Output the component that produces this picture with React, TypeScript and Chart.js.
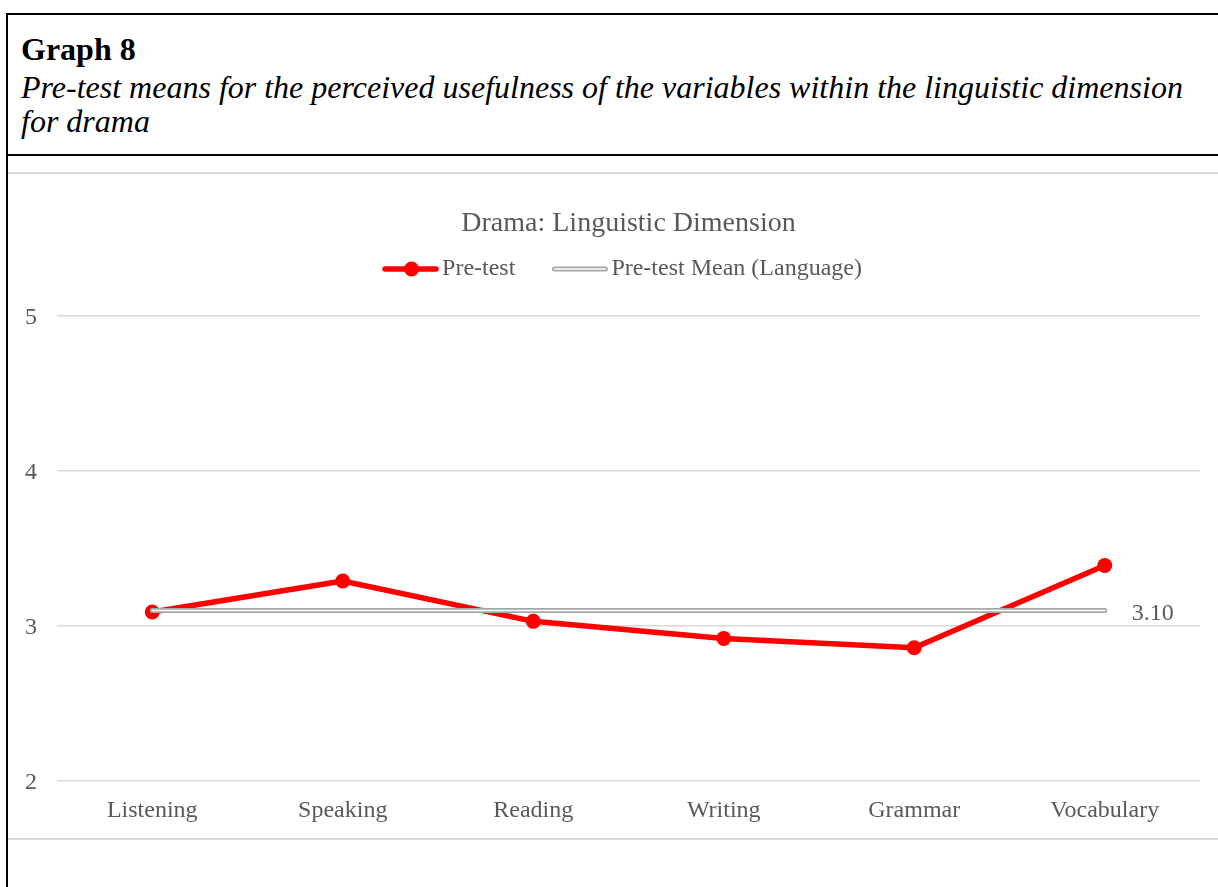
import React, { useEffect, useRef } from "react";
import { Chart, registerables } from "chart.js";

Chart.register(...registerables);

// ---- data ----
const categories = ["Listening", "Speaking", "Reading", "Writing", "Grammar", "Vocabulary"];
const preTestValues = [3.09, 3.29, 3.03, 2.92, 2.86, 3.39];
const meanValues = [3.1, 3.1, 3.1, 3.1, 3.1, 3.1];
const seriesNames = ["Pre-test", "Pre-test Mean (Language)"];
const yMin = 2;
const yMax = 5;
const yStep = 1;
const chartTitle = "Drama: Linguistic Dimension";
const meanLabel = "3.10";
const graphHeading = "Graph 8";
const graphCaption = [
  "Pre-test means for the perceived usefulness of the variables within the linguistic dimension",
  "for drama",
];

const FONT = '"Liberation Serif", "Times New Roman", serif';
const TEXT_COLOR = "#595959";
const RED = "#ff0000";
const GRAY = "#a6a6a6";
const GRID = "#d9d9d9";

const legendPlugin = {
  id: "customLegend",
  afterDraw(chart: any) {
    const ctx = chart.ctx;
    const ca = chart.chartArea;
    ctx.save();
    ctx.font = `24px ${FONT}`;
    const w1 = ctx.measureText(seriesNames[0]).width;
    const w2 = ctx.measureText(seriesNames[1]).width;
    const symW = 55;
    const gapText = 4;
    const gapItem = 37;
    const total = symW + gapText + w1 + gapItem + symW + gapText + w2;
    const cx = (ca.left + ca.right) / 2 - 6;
    let x = cx - total / 2;
    const y = 95;
    // symbol 1: red line with marker
    ctx.lineCap = "round";
    ctx.strokeStyle = RED;
    ctx.lineWidth = 5.5;
    ctx.beginPath();
    ctx.moveTo(x + 2, y);
    ctx.lineTo(x + symW - 2, y);
    ctx.stroke();
    ctx.fillStyle = RED;
    ctx.beginPath();
    ctx.arc(x + symW / 2 + 1, y, 7.5, 0, Math.PI * 2);
    ctx.fill();
    x += symW + gapText;
    ctx.fillStyle = TEXT_COLOR;
    ctx.textBaseline = "middle";
    ctx.textAlign = "left";
    ctx.fillText(seriesNames[0], x, y);
    x += w1 + gapItem;
    // symbol 2: double gray line
    ctx.strokeStyle = GRAY;
    ctx.lineWidth = 5;
    ctx.beginPath();
    ctx.moveTo(x + 2, y);
    ctx.lineTo(x + symW - 2, y);
    ctx.stroke();
    ctx.strokeStyle = "#ffffff";
    ctx.lineWidth = 1.5;
    ctx.beginPath();
    ctx.moveTo(x + 2, y);
    ctx.lineTo(x + symW - 2, y);
    ctx.stroke();
    x += symW + gapText;
    ctx.fillStyle = TEXT_COLOR;
    ctx.fillText(seriesNames[1], x, y);
    ctx.restore();
  },
};

const meanLabelPlugin = {
  id: "meanLabel",
  afterDatasetsDraw(chart: any) {
    const meta = chart.getDatasetMeta(1);
    const pt = meta.data[meta.data.length - 1];
    if (!pt) return;
    const ctx = chart.ctx;
    ctx.save();
    ctx.font = `24px ${FONT}`;
    ctx.fillStyle = TEXT_COLOR;
    ctx.textBaseline = "middle";
    ctx.textAlign = "left";
    ctx.fillText(meanLabel, pt.x + 27, pt.y + 3);
    ctx.restore();
  },
};

function ChartCanvas() {
  const ref = useRef<HTMLCanvasElement | null>(null);
  useEffect(() => {
    if (!ref.current) return;
    const chart = new Chart(ref.current, {
      type: "line",
      data: {
        labels: categories,
        datasets: [
          {
            label: seriesNames[0],
            data: preTestValues,
            borderColor: RED,
            backgroundColor: RED,
            borderWidth: 5.5,
            pointRadius: 7.5,
            pointHoverRadius: 7.5,
            pointBackgroundColor: RED,
            pointBorderWidth: 0,
            borderCapStyle: "round",
            borderJoinStyle: "round",
            tension: 0,
            order: 2,
          },
          {
            label: seriesNames[1],
            data: meanValues,
            borderColor: GRAY,
            borderWidth: 5,
            pointRadius: 0,
            borderCapStyle: "round",
            tension: 0,
            order: 1,
          },
          {
            label: "",
            data: meanValues,
            borderColor: "#ffffff",
            borderWidth: 1.5,
            pointRadius: 0,
            borderCapStyle: "round",
            tension: 0,
            order: 0,
          },
        ],
      },
      options: {
        animation: false,
        responsive: false,
        devicePixelRatio: 1,
        layout: { padding: { left: 0, right: 18, top: 0, bottom: 0 } },
        plugins: {
          legend: { display: false },
          tooltip: { enabled: false },
          title: {
            display: true,
            text: chartTitle,
            color: TEXT_COLOR,
            fullSize: false,
            font: { family: FONT, size: 28, weight: "normal" },
            padding: { top: 32.7, bottom: 75.7 },
          },
        },
        scales: {
          x: {
            type: "category",
            offset: true,
            grid: { display: false },
            border: { display: false },
            ticks: {
              color: TEXT_COLOR,
              font: { family: FONT, size: 24 },
              padding: 7,
              maxRotation: 0,
              autoSkip: false,
            },
            afterFit: (s: any) => {
              s.height = 57;
            },
          },
          y: {
            min: yMin,
            max: yMax,
            grid: { color: GRID, lineWidth: 1.5, drawTicks: false },
            border: { display: false },
            ticks: {
              stepSize: yStep,
              color: TEXT_COLOR,
              font: { family: FONT, size: 24 },
              padding: 20,
              labelOffset: 2,
            },
            afterFit: (s: any) => {
              s.width = 49;
            },
          },
        },
      },
      plugins: [legendPlugin, meanLabelPlugin],
    } as any);
    return () => chart.destroy();
  }, []);
  return (
    <canvas
      ref={ref}
      width={1210}
      height={664}
      style={{ position: "absolute", left: 8, top: 174, width: 1210, height: 664 }}
    />
  );
}

export default function App() {
  const abs = (s: React.CSSProperties): React.CSSProperties => ({ position: "absolute", ...s });
  return (
    <div style={abs({ left: 0, top: 0, width: 1218, height: 887, overflow: "hidden", background: "#fff" })}>
      <div style={abs({ left: 6, top: 13, width: 1212, height: 2, background: "#000" })} />
      <div style={abs({ left: 6, top: 13, width: 2, height: 874, background: "#000" })} />
      <div style={abs({ left: 6, top: 154, width: 1212, height: 2, background: "#000" })} />
      <div
        style={abs({
          left: 21,
          top: 32,
          fontFamily: FONT,
          fontSize: 32,
          lineHeight: "34px",
          fontWeight: "bold",
          color: "#000",
          whiteSpace: "nowrap",
        })}
      >
        {graphHeading}
      </div>
      <div
        style={abs({
          left: 21,
          top: 70,
          fontFamily: FONT,
          fontSize: 32,
          lineHeight: "34px",
          fontStyle: "italic",
          color: "#000",
          whiteSpace: "nowrap",
        })}
      >
        {graphCaption[0]}
        <br />
        {graphCaption[1]}
      </div>
      <div style={abs({ left: 8, top: 172, width: 1210, height: 2, background: GRID })} />
      <div style={abs({ left: 8, top: 838, width: 1210, height: 2, background: GRID })} />
      <ChartCanvas />
    </div>
  );
}
